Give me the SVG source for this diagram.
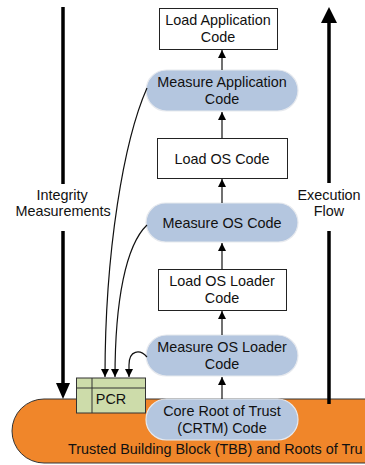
<svg xmlns="http://www.w3.org/2000/svg" width="365" height="465" viewBox="0 0 365 465">
  <style>
    text { font-family: "Liberation Sans", Arial, sans-serif; font-size: 14.4px; fill: #111; text-anchor: middle; }
    .box { fill: #ffffff; stroke: #222; stroke-width: 1; }
    .pill { fill: #b4c6df; stroke: #e6e9ee; stroke-width: 1.2; }
    .band { fill: #f0862a; stroke: #333; stroke-width: 1; }
    .pcr { fill: #cddcaa; stroke: #333; stroke-width: 1; }
    .flow { stroke: #111; stroke-width: 1.2; fill: none; }
    .thick { stroke: #000; stroke-width: 3.5; fill: none; }
  </style>
  <defs>
    <marker id="tri" markerUnits="userSpaceOnUse" markerWidth="9" markerHeight="9" refX="8" refY="4" orient="auto">
      <path d="M0,0 L8,4 L0,8 z" fill="#000"/>
    </marker>
  </defs>

  <!-- trusted building block band -->
  <g id="tbb">
    <rect class="band" x="12" y="399" width="400" height="64" rx="32" ry="32"/>
    <text x="68" y="454" style="text-anchor:start">Trusted Building Block (TBB) and Roots of Tru</text>
  </g>

  <!-- PCR register -->
  <g id="pcr">
    <rect class="pcr" x="76.5" y="378" width="69" height="35"/>
    <line x1="92" y1="378" x2="92" y2="413" stroke="#333" stroke-width="1"/>
    <line x1="76.5" y1="388" x2="145.5" y2="388" stroke="#333" stroke-width="1"/>
    <text x="111" y="404">PCR</text>
  </g>

  <g id="load-app">
    <rect class="box" x="159.5" y="8.5" width="118" height="41"/>
    <text x="218" y="25">Load Application</text>
    <text x="218" y="42">Code</text>
  </g>
  <g id="measure-app">
    <rect class="pill" x="146" y="70" width="152" height="41" rx="20.5"/>
    <text x="222" y="86.5">Measure Application</text>
    <text x="222" y="103.5">Code</text>
  </g>
  <g id="load-os">
    <rect class="box" x="157.5" y="138.5" width="130" height="40"/>
    <text x="222" y="163.5">Load OS Code</text>
  </g>
  <g id="measure-os">
    <rect class="pill" x="146" y="203" width="152" height="39" rx="19.5"/>
    <text x="222" y="227.5">Measure OS Code</text>
  </g>
  <g id="load-loader">
    <rect class="box" x="158.5" y="269.5" width="128" height="41"/>
    <text x="222" y="286">Load OS Loader</text>
    <text x="222" y="303">Code</text>
  </g>
  <g id="measure-loader">
    <rect class="pill" x="146" y="335" width="152" height="41" rx="20.5"/>
    <text x="222" y="351.5">Measure OS Loader</text>
    <text x="222" y="368.5">Code</text>
  </g>
  <g id="crtm">
    <rect class="pill" x="146" y="399" width="152" height="41" rx="20.5"/>
    <text x="222" y="415.5">Core Root of Trust</text>
    <text x="222" y="432.5">(CRTM) Code</text>
  </g>

  <!-- side labels -->
  <g id="label-integrity">
    <text x="62" y="200">Integrity</text>
    <text x="63" y="216">Measurements</text>
  </g>
  <g id="label-execution">
    <text x="329" y="200">Execution</text>
    <text x="329" y="216">Flow</text>
  </g>

  <g id="connectors">
    <!-- boot chain -->
    <line class="flow" x1="222" y1="399" x2="222" y2="377" marker-end="url(#tri)"/>
    <line class="flow" x1="222" y1="335" x2="222" y2="311" marker-end="url(#tri)"/>
    <line class="flow" x1="222" y1="269.5" x2="222" y2="243" marker-end="url(#tri)"/>
    <line class="flow" x1="222" y1="203" x2="222" y2="179" marker-end="url(#tri)"/>
    <line class="flow" x1="222" y1="138.5" x2="222" y2="112" marker-end="url(#tri)"/>
    <line class="flow" x1="222" y1="70" x2="222" y2="50" marker-end="url(#tri)"/>

    <!-- measurements into the PCR -->
    <path class="flow" d="M147,88 C124,140 105,250 105,377" marker-end="url(#tri)"/>
    <path class="flow" d="M147,225 C126,245 115,300 115,377" marker-end="url(#tri)"/>
    <path class="flow" d="M147,357 C140,349 129,350 129,365 L129,377" marker-end="url(#tri)"/>

    <!-- integrity measurements (downward) -->
    <line class="thick" x1="63" y1="7" x2="63" y2="184"/>
    <line class="thick" x1="63" y1="231" x2="63" y2="385"/>
    <polygon points="56,383 70,383 63,399" fill="#000"/>

    <!-- execution flow (upward) -->
    <line class="thick" x1="329" y1="404" x2="329" y2="231"/>
    <line class="thick" x1="329" y1="183" x2="329" y2="21"/>
    <polygon points="321,23 337,23 329,7" fill="#000"/>
  </g>
</svg>
